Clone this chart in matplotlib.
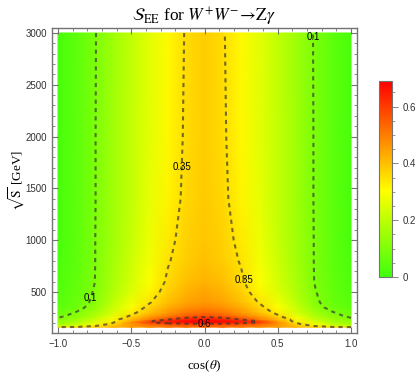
import numpy as np
import matplotlib
matplotlib.use("Agg")
import matplotlib.pyplot as plt
from matplotlib.colors import LinearSegmentedColormap, Normalize
from matplotlib.ticker import MultipleLocator, FixedLocator, FuncFormatter

# ---------------- data ----------------
cos_theta = [-1.0, -0.875, -0.75, -0.625, -0.5, -0.375, -0.25, -0.125, 0.0,
             0.125, 0.25, 0.375, 0.5, 0.625, 0.75, 0.875, 1.0]
sqrt_s = [160, 175, 190, 205, 220, 235, 250, 270, 300, 350, 400, 500, 600,
          800, 1000, 1400, 2000, 3000]

r160 = [0.36, 0.37, 0.38, 0.41, 0.44, 0.47, 0.50, 0.515, 0.52, 0.515, 0.50, 0.47, 0.44, 0.41, 0.38, 0.37, 0.36]
r175 = [0.20, 0.24, 0.34, 0.40, 0.46, 0.50, 0.53, 0.545, 0.55, 0.545, 0.53, 0.50, 0.46, 0.40, 0.34, 0.24, 0.20]
r190 = [0.16, 0.21, 0.29, 0.37, 0.46, 0.53, 0.57, 0.58, 0.585, 0.58, 0.57, 0.53, 0.46, 0.37, 0.29, 0.21, 0.16]
r205 = [0.14, 0.18, 0.26, 0.345, 0.48, 0.595, 0.63, 0.66, 0.67, 0.66, 0.63, 0.595, 0.48, 0.345, 0.26, 0.18, 0.14]
r220 = [0.13, 0.16, 0.24, 0.32, 0.44, 0.59, 0.645, 0.68, 0.69, 0.68, 0.645, 0.59, 0.44, 0.32, 0.24, 0.16, 0.13]
r235 = [0.115, 0.15, 0.22, 0.32, 0.41, 0.50, 0.595, 0.64, 0.66, 0.64, 0.595, 0.50, 0.41, 0.32, 0.22, 0.15, 0.115]
r250 = [0.10, 0.14, 0.20, 0.29, 0.39, 0.48, 0.55, 0.605, 0.62, 0.605, 0.55, 0.48, 0.39, 0.29, 0.20, 0.14, 0.10]
r270 = [0.085, 0.12, 0.18, 0.27, 0.36, 0.44, 0.50, 0.55, 0.57, 0.55, 0.50, 0.44, 0.36, 0.27, 0.18, 0.12, 0.085]
r300 = [0.07, 0.105, 0.16, 0.24, 0.33, 0.40, 0.46, 0.51, 0.53, 0.51, 0.46, 0.40, 0.33, 0.24, 0.16, 0.105, 0.07]
r350 = [0.05, 0.075, 0.13, 0.22, 0.30, 0.37, 0.43, 0.47, 0.49, 0.47, 0.43, 0.37, 0.30, 0.22, 0.13, 0.075, 0.05]
r400 = [0.04, 0.065, 0.115, 0.20, 0.28, 0.345, 0.40, 0.44, 0.46, 0.44, 0.40, 0.345, 0.28, 0.20, 0.115, 0.065, 0.04]
r500 = [0.03, 0.06, 0.105, 0.18, 0.25, 0.32, 0.375, 0.42, 0.44, 0.42, 0.375, 0.32, 0.25, 0.18, 0.105, 0.06, 0.03]
r600 = [0.025, 0.055, 0.099, 0.17, 0.235, 0.30, 0.36, 0.40, 0.42, 0.40, 0.36, 0.30, 0.235, 0.17, 0.099, 0.055, 0.025]
r800 = [0.02, 0.05, 0.098, 0.16, 0.225, 0.285, 0.345, 0.38, 0.40, 0.38, 0.345, 0.285, 0.225, 0.16, 0.098, 0.05, 0.02]
r1000 = [0.015, 0.05, 0.098, 0.155, 0.215, 0.275, 0.335, 0.372, 0.39, 0.372, 0.335, 0.275, 0.215, 0.155, 0.098, 0.05, 0.015]
r1400 = [0.015, 0.05, 0.097, 0.155, 0.21, 0.265, 0.32, 0.363, 0.385, 0.363, 0.32, 0.265, 0.21, 0.155, 0.097, 0.05, 0.015]
r2000 = [0.015, 0.05, 0.097, 0.155, 0.21, 0.26, 0.315, 0.358, 0.38, 0.358, 0.315, 0.26, 0.21, 0.155, 0.097, 0.05, 0.015]
r3000 = [0.015, 0.05, 0.096, 0.15, 0.205, 0.26, 0.31, 0.355, 0.38, 0.355, 0.31, 0.26, 0.205, 0.15, 0.096, 0.05, 0.015]

contour_levels = [0.1, 0.35, 0.6]
contour_labels = {0.1: "0.1", 0.35: "0.35", 0.6: "0.6"}
cbar_ticks = [0.0, 0.2, 0.4, 0.6]
cbar_ticklabels = ["0", "0.2", "0.4", "0.6"]
x_ticks = [-1.0, -0.5, 0.0, 0.5, 1.0]
y_ticks = [500, 1000, 1500, 2000, 2500, 3000]

# ---------------- figure ----------------
plt.rcParams["mathtext.fontset"] = "stix"
plt.rcParams["font.family"] = ["Liberation Sans", "DejaVu Sans"]

Z = np.array([r160, r175, r190, r205, r220, r235, r250, r270, r300, r350,
              r400, r500, r600, r800, r1000, r1400, r2000, r3000])
X, Y = np.meshgrid(np.array(cos_theta), np.array(sqrt_s, dtype=float))

cmap = LinearSegmentedColormap.from_list(
    "gyr", [(0.0, (0.25, 1.0, 0.05)), (0.44, (1.0, 1.0, 0.0)), (1.0, (1.0, 0.0, 0.0))])
norm = Normalize(vmin=0.0, vmax=0.69)

fig = plt.figure(figsize=(4.2, 3.77), dpi=100)
ax = fig.add_axes([52 / 420, 44 / 377, 305 / 420, 305 / 377])

mesh = ax.pcolormesh(X, Y, Z, cmap=cmap, norm=norm, shading="gouraud")

cs = ax.contour(X, Y, Z, levels=contour_levels, colors=[(0.22, 0.22, 0.2)],
                linewidths=1.5, linestyles=[(0, (2.0, 2.0))], alpha=0.7)
texts = ax.clabel(cs, fmt=contour_labels, inline=False, fontsize=7, colors="black",
                  manual=[(0.734, 2960), (-0.77, 440), (-0.153, 1707),
                          (0.235, 606), (0.0, 200)])
for t in texts:
    t.set_rotation(0)
    t.set_color("black")
    t.set_alpha(1.0)

ax.set_xlim(-1.041, 1.041)
ax.set_ylim(104, 3048)

frame_col = (0.45, 0.45, 0.45)
for sp in ax.spines.values():
    sp.set_color(frame_col)
    sp.set_linewidth(1.0)

ax.xaxis.set_major_locator(FixedLocator(x_ticks))
ax.xaxis.set_minor_locator(MultipleLocator(0.1))
ax.yaxis.set_major_locator(FixedLocator(y_ticks))
ax.yaxis.set_minor_locator(MultipleLocator(100))
ax.xaxis.set_major_formatter(FuncFormatter(lambda v, p: ("%.1f" % v).replace("-", "\u2212")))
ax.tick_params(which="both", direction="in", top=True, right=True,
               color=frame_col, labelsize=7, labelcolor=(0.2, 0.2, 0.2))
ax.tick_params(which="major", length=4, width=0.8)
ax.tick_params(which="minor", length=2, width=0.6)
ax.tick_params(axis="x", pad=4)

ax.set_title(r"$\mathcal{S}_{\mathrm{EE}}$ for $W^{+}W^{-}\!\rightarrow\!\mathrm{Z}\gamma$",
             fontsize=12.5, family="Liberation Serif", pad=5)
ax.set_xlabel(r"cos($\theta$)", fontsize=9.5, family="Liberation Serif", labelpad=7)
ax.set_ylabel(r"$\sqrt{\mathrm{S}}$ [GeV]", fontsize=9.5, family="Liberation Serif")
ax.yaxis.set_label_coords(-0.082, 0.5)

# colorbar
cax = fig.add_axes([379 / 420, (377 - 277) / 377, 13 / 420, 196 / 377])
cb = fig.colorbar(mesh, cax=cax)
cb.outline.set_edgecolor(frame_col)
cb.outline.set_linewidth(0.8)
cb.set_ticks(cbar_ticks)
cb.set_ticklabels(cbar_ticklabels)
cax.yaxis.set_minor_locator(MultipleLocator(0.05))
cax.tick_params(which="both", color=frame_col, labelsize=7, labelcolor=(0.2, 0.2, 0.2))
cax.tick_params(which="major", length=4, width=0.6)
cax.tick_params(which="minor", length=2, width=0.5)

fig.savefig("out.png", dpi=100)
